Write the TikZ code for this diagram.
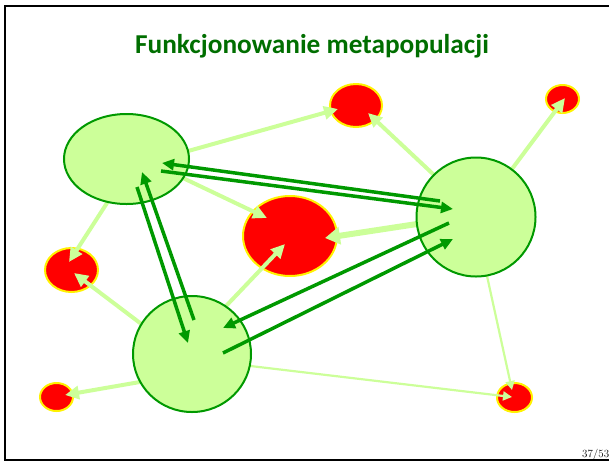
\documentclass[tikz,border=0pt]{standalone}
\usepackage{fontspec}
\newfontfamily\titlefont{Carlito}
\usetikzlibrary{shapes.geometric,arrows.meta}
\pgfdeclarelayer{back}
\pgfsetlayers{back,main}
\definecolor{patchgreen}{RGB}{204,255,153}
\definecolor{linkgreen}{RGB}{0,153,0}
\definecolor{titlegreen}{RGB}{0,110,0}
\begin{document}
\begin{tikzpicture}[x=1pt,y=-1pt,
  bigpatch/.style={ellipse, draw=linkgreen, line width=2pt, fill=patchgreen, inner sep=0pt},
  emptypatch/.style={ellipse, draw=yellow, line width=2pt, fill=red, inner sep=0pt},
  colonise/.style={color=patchgreen, line width=4pt, -{Triangle[length=14pt,width=13pt]}},
  colonisewide/.style={color=patchgreen, line width=6pt, -{Triangle[length=15pt,width=17pt]}},
  colonisethin/.style={color=patchgreen, line width=2.2pt, -{Triangle[length=9pt,width=9pt]}},
  migrate/.style={color=linkgreen, line width=3.5pt, -{Triangle[length=12pt,width=11pt]}}]
\useasboundingbox (0,0) rectangle (609,461);

% slide frame
\draw[line width=2pt] (620,5.5) -- (4.5,5.5) -- (4.5,459.5) -- (620,459.5);

% title and page number
\node[font=\titlefont\bfseries\fontsize{27.3}{32}\selectfont, text=titlegreen, anchor=base] (title) at (312,53) {Funkcjonowanie metapopulacji};
\node[font=\fontsize{11}{12}\selectfont, anchor=base west, inner sep=0pt] (pageno) at (582,457) {37/53};

% occupied patches
\node[bigpatch, minimum width=125pt, minimum height=90pt] (A) at (126.5,159) {};
\node[bigpatch, minimum width=119pt, minimum height=119pt] (B) at (476,217) {};
\node[bigpatch, minimum width=118pt, minimum height=116pt] (C) at (192,354) {};

\begin{pgfonlayer}{back}
% empty patches
\node[emptypatch, minimum width=94pt, minimum height=80pt] (R0) at (290,236) {};
\node[emptypatch, minimum width=52pt, minimum height=43pt] (RT) at (356,105.5) {};
\node[emptypatch, minimum width=33pt, minimum height=28pt] (RTR) at (562.5,99) {};
\node[emptypatch, minimum width=53pt, minimum height=44pt] (RL) at (71.5,270) {};
\node[emptypatch, minimum width=33pt, minimum height=28pt] (RBL) at (56.5,397) {};
\node[emptypatch, minimum width=35pt, minimum height=29pt] (RBR) at (514.5,397.5) {};

% colonisation of empty patches
\draw[colonise] ([shift={(53.8,-5.8)}]A.center) -- ([shift={(-18,3.5)}]RT.center);
\draw[colonise] ([shift={(-37.2,-37.5)}]B.center) -- ([shift={(12,7.5)}]RT.center);
\draw[colonise] ([shift={(31.2,-41.6)}]B.center) -- ([shift={(2.5,-1)}]RTR.center);
\draw[colonise] ([shift={(49.3,15.6)}]A.center) -- ([shift={(-23,-18)}]R0.center);
\draw[colonisewide] ([shift={(-51.1,5.8)}]B.center) -- ([shift={(35,2)}]R0.center);
\draw[colonise] ([shift={(29.5,-43.2)}]C.center) -- ([shift={(-5,8)}]R0.center);
\draw[colonise] ([shift={(-15.2,37.3)}]A.center) -- ([shift={(-2.5,-8)}]RL.center);
\draw[colonise] ([shift={(-45.6,-26.2)}]C.center) -- ([shift={(2.5,3)}]RL.center);
\draw[colonise] ([shift={(-44.1,26.6)}]C.center) -- ([shift={(8.5,-2)}]RBL.center);
\draw[colonisethin] ([shift={(50,11)}]C.center) -- ([shift={(-2.5,-0.5)}]RBR.center);
\draw[colonisethin] ([shift={(9.3,51.2)}]B.center) -- ([shift={(-2.5,-7.5)}]RBR.center);
\end{pgfonlayer}

% migration between occupied patches
\draw[migrate] ([shift={(-36,-16)}]B.center) -- ([shift={(35.5,4)}]A.center);
\draw[migrate] ([shift={(34.5,12)}]A.center) -- ([shift={(-23,-8)}]B.center);
\draw[migrate] ([shift={(10.5,28)}]A.center) -- ([shift={(-4,-11)}]C.center);
\draw[migrate] ([shift={(2,-34)}]C.center) -- ([shift={(15.5,13)}]A.center);
\draw[migrate] ([shift={(-27,6)}]B.center) -- ([shift={(31,-26)}]C.center);
\draw[migrate] ([shift={(31,-1)}]C.center) -- ([shift={(-23,22)}]B.center);
\end{tikzpicture}
\end{document}
